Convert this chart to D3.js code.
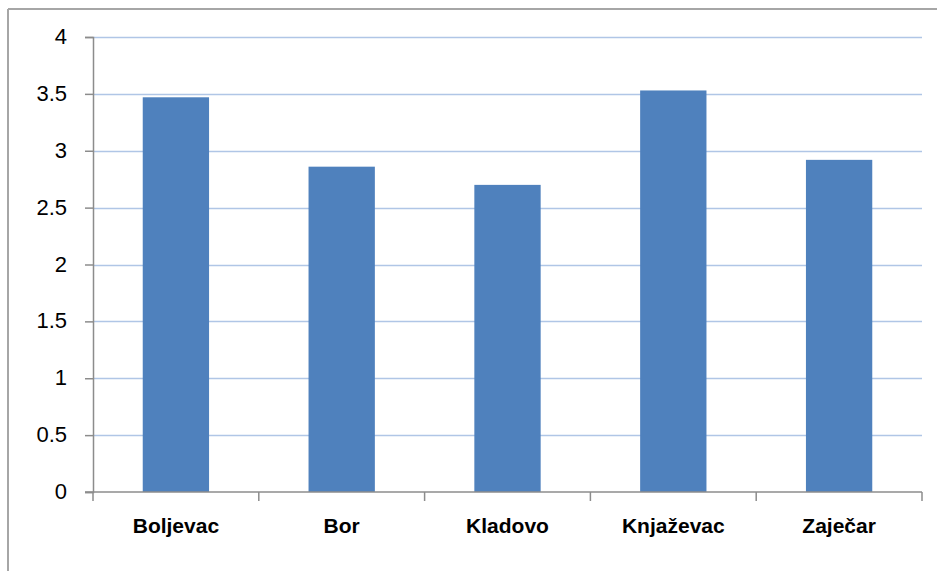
<!DOCTYPE html>
<html><head><meta charset="utf-8">
<script src="https://cdn.jsdelivr.net/npm/d3@7"></script>
<style>body{margin:0;background:#fff}svg{display:block}</style>
</head><body><svg id="c" width="937" height="571"></svg>
<script>
const categories = ["Boljevac","Bor","Kladovo","Knjaževac","Zaječar"];
const values = [3.47, 2.86, 2.70, 3.53, 2.92];
const yTicks = [0,0.5,1,1.5,2,2.5,3,3.5,4];

const svg = d3.select("#c");
const L=93, R=922, T=37, B=492;
// outer frame
svg.append("line").attr("x1",8).attr("x2",937).attr("y1",9).attr("y2",9).attr("stroke","#a6a6a6").attr("stroke-width",2);
svg.append("line").attr("x1",8).attr("x2",8).attr("y1",9).attr("y2",571).attr("stroke","#a6a6a6").attr("stroke-width",2);

const x = d3.scaleBand().domain(categories).range([L,R]).paddingInner(0.6).paddingOuter(0.3);
const xb = d3.scaleBand().domain(categories).range([L,R]);
const y = d3.scaleLinear().domain([0,4]).range([B,T]);

svg.append("g").selectAll("line").data(yTicks.slice(1)).join("line")
  .attr("x1",L).attr("x2",R).attr("y1",d=>Math.round(y(d))+0.5).attr("y2",d=>Math.round(y(d))+0.5)
  .attr("stroke","#b0c6e6").attr("stroke-width",1.5);

svg.append("g").selectAll("rect").data(values).join("rect")
  .attr("x",(d,i)=>x(categories[i])).attr("width",x.bandwidth())
  .attr("y",d=>y(d)).attr("height",d=>B-y(d)).attr("fill","#4f81bd");

const ya = svg.append("g").attr("transform",`translate(${L},0)`)
  .call(d3.axisLeft(y).tickValues(yTicks).tickSize(8).tickPadding(18).tickFormat(d=>String(d)));
ya.select(".domain").attr("stroke","#8c8c8c").attr("stroke-width",1.5);
ya.selectAll(".tick line").attr("stroke","#8c8c8c").attr("stroke-width",1.5);
ya.selectAll("text").attr("font-family","Liberation Sans, Arial, sans-serif").attr("font-size",22).attr("fill","#000").attr("dy","0.3em");

const xa = svg.append("g").attr("transform",`translate(0,${B})`)
  .call(d3.axisBottom(xb).tickSize(0).tickPadding(26));
xa.select(".domain").remove();
xa.append("line").attr("x1",L-8).attr("x2",R).attr("y1",0).attr("y2",0).attr("stroke","#8c8c8c").attr("stroke-width",1.5);
xa.selectAll(".tick text").attr("font-family","Liberation Sans, Arial, sans-serif").attr("font-size",21).attr("font-weight","bold").attr("fill","#000");
const bounds = categories.map(c=>xb(c)).concat([R]);
xa.append("g").selectAll("line").data(bounds).join("line")
  .attr("x1",d=>d).attr("x2",d=>d).attr("y1",0).attr("y2",9).attr("stroke","#8c8c8c").attr("stroke-width",1.5);
</script></body></html>
